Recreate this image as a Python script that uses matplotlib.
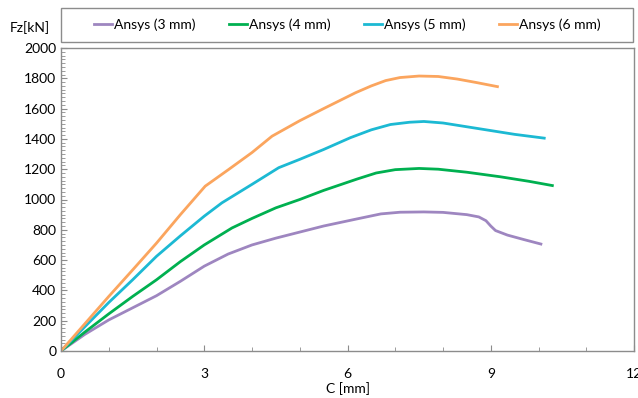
import numpy as np
import matplotlib
matplotlib.use("Agg")
import matplotlib.pyplot as plt
from matplotlib.patches import Rectangle
from matplotlib.ticker import MultipleLocator

plt.rcParams['font.family'] = ['Lato', 'DejaVu Sans']

# displacement C [mm] and force Fz [kN]
c_3mm = [0, 0.5, 1.0, 1.5, 2.0, 2.5, 3.0, 3.5, 4.0, 4.5, 5.0, 5.5, 6.2, 6.7, 7.1, 7.6,
         8.0, 8.5, 8.75, 8.9, 9.0, 9.1, 9.35, 9.7, 10.05]
fz_3mm = [0, 110, 205, 285, 365, 460, 560, 640, 700, 745, 785, 825, 872, 905, 916, 918,
          915, 900, 885, 860, 825, 795, 765, 735, 706]

c_4mm = [0, 0.5, 1.0, 1.5, 2.0, 2.5, 3.0, 3.58, 4.0, 4.5, 5.0, 5.5, 6.2, 6.6, 7.0, 7.5,
         7.9, 8.5, 9.2, 9.8, 10.29]
fz_4mm = [0, 125, 245, 360, 470, 590, 700, 812, 875, 945, 1000, 1060, 1135, 1175, 1197, 1205,
          1200, 1180, 1150, 1120, 1092]

c_5mm = [0, 0.5, 1.0, 1.5, 2.0, 2.5, 3.0, 3.37, 4.0, 4.56, 5.0, 5.5, 6.06, 6.5, 6.9, 7.3,
         7.6, 8.0, 8.5, 9.0, 9.5, 10.12]
fz_5mm = [0, 160, 320, 470, 625, 760, 890, 978, 1100, 1210, 1265, 1330, 1408, 1460, 1495, 1510,
          1515, 1505, 1480, 1455, 1430, 1405]

c_6mm = [0, 0.5, 1.0, 1.5, 2.0, 2.5, 3.02, 3.51, 4.0, 4.42, 5.0, 5.5, 6.17, 6.5, 6.8, 7.1,
         7.5, 7.9, 8.3, 8.7, 9.14]
fz_6mm = [0, 180, 360, 535, 712, 900, 1088, 1198, 1310, 1418, 1520, 1600, 1705, 1750, 1785, 1805,
          1815, 1812, 1795, 1772, 1745]

labels = ["Ansys (3 mm)", "Ansys (4 mm)", "Ansys (5 mm)", "Ansys (6 mm)"]
colors = ["#9E86C0", "#00B050", "#1CB9D3", "#FBA55E"]


def main():
    fig = plt.figure(figsize=(6.38, 3.98), dpi=100)
    ax = fig.add_axes([61 / 638, 1 - 351 / 398, 573 / 638, 303 / 398])

    series = [(c_3mm, fz_3mm), (c_4mm, fz_4mm), (c_5mm, fz_5mm), (c_6mm, fz_6mm)]
    for (x, y), lab, col in zip(series, labels, colors):
        ax.plot(x, y, color=col, lw=2.0, label=lab, solid_joinstyle="round")

    ax.set_xlim(0, 12)
    ax.set_ylim(0, 2000)
    ax.xaxis.set_major_locator(MultipleLocator(3))
    ax.xaxis.set_minor_locator(MultipleLocator(1))
    ax.yaxis.set_major_locator(MultipleLocator(200))
    ax.yaxis.set_minor_locator(MultipleLocator(25))
    for s in ax.spines.values():
        s.set_color("#8c8c8c")
        s.set_linewidth(1.0)
    ax.tick_params(which="both", direction="in", color="#8c8c8c", labelsize=10)
    ax.tick_params(which="major", length=4)
    ax.tick_params(which="minor", length=3)
    ax.tick_params(axis="x", pad=12)
    ax.set_xlabel("C [mm]", fontsize=10, labelpad=2)

    fig.text(30 / 638, 1 - 28 / 398, "Fz[kN]", fontsize=10, ha="center", va="center")

    # legend box above the plot
    fig.patches.append(Rectangle((61 / 638, 1 - 42 / 398), 572 / 638, 34 / 398,
                                 transform=fig.transFigure, fill=False,
                                 edgecolor="#8c8c8c", linewidth=1.0))
    fig.legend(*ax.get_legend_handles_labels(), loc="center",
               bbox_to_anchor=(347 / 638, 1 - 25 / 398), ncol=4, fontsize=10,
               handlelength=1.3, handletextpad=0.15, columnspacing=2.4, frameon=False)

    fig.savefig("out.png", dpi=100)


if __name__ == "__main__":
    main()
